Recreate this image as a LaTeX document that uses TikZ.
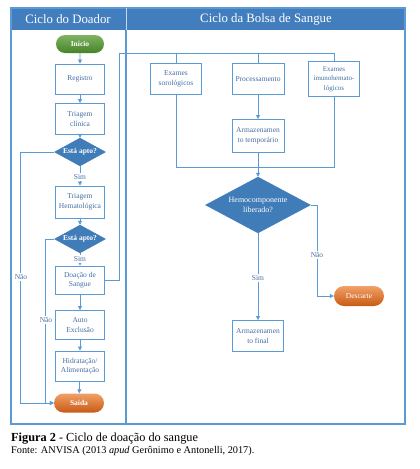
\documentclass[tikz,border=0pt]{standalone}
\usepackage{fontspec}
\setmainfont{Liberation Serif}
\usetikzlibrary{shapes.geometric,shapes.misc,arrows.meta}
\definecolor{lncol}{RGB}{91,155,213}
\definecolor{hdcol}{RGB}{66,126,190}
\definecolor{dmcol}{RGB}{64,124,184}
\definecolor{txcol}{RGB}{70,110,165}
\definecolor{grn}{RGB}{96,160,60}
\definecolor{grnd}{RGB}{70,130,40}
\definecolor{org}{RGB}{235,120,40}
\definecolor{orgd}{RGB}{200,90,20}
\tikzset{
  ln/.style={draw=lncol,line width=0.8pt},
  arr/.style={ln,-{Triangle[length=4pt,width=4pt]}},
  box/.style={rectangle,draw=lncol,line width=0.9pt,fill=white,minimum width=49pt,minimum height=30pt,inner sep=1pt,text=txcol,align=center,font=\fontsize{7.5}{9.5}\selectfont},
  pill/.style={rounded rectangle,minimum width=50pt,minimum height=18pt,inner sep=1pt,text=white,font=\fontsize{7.5}{9}\selectfont\bfseries},
  dia/.style={diamond,fill=dmcol,draw=dmcol,text=white,inner sep=0pt,align=center},
  smalldia/.style={dia,aspect=1.8,minimum width=51pt,minimum height=28pt,font=\fontsize{7.5}{9}\selectfont\bfseries},
  lbl/.style={fill=white,text=txcol,inner sep=1pt,font=\fontsize{7.5}{9}\selectfont},
  hdr/.style={text=white,font=\fontsize{12.8}{14}\selectfont}
}
\begin{document}
\begin{tikzpicture}[x=1pt,y=-1pt]
\useasboundingbox[fill=white] (0,0) rectangle (420,469);
% frame
\fill[hdcol] (11,8) rectangle (405,30);
\draw[lncol,line width=1.2pt] (11,8) rectangle (405,424);
\draw[lncol,line width=1.2pt] (126,30) -- (126,424);
\draw[white!70!hdcol,line width=0.8pt] (126,8) -- (126,30);
\node[hdr] (h1) at (68,19) {Ciclo do Doador};
\node[hdr] (h2) at (266,19) {Ciclo da Bolsa de Sangue};
% left lane
\node[pill,top color=grn!80!white,bottom color=grnd] (ini) at (80,44) {Início};
\node[box] (reg) at (80,79) {Registro};
\node[box,minimum height=31pt] (tri) at (80,119) {Triagem\\clínica};
\node[smalldia] (d1) at (80,152) {Está apto?};
\node[box,minimum height=32pt] (trh) at (80,202) {Triagem\\Hematológica};
\node[smalldia] (d2) at (80,239) {Está apto?};
\node[box,minimum height=28pt] (doa) at (80,280) {Doação de\\Sangue};
\node[box,minimum height=29pt] (aut) at (80,325) {Auto\\Exclusão};
\node[box,minimum height=30pt] (hid) at (80,366) {Hidratação/\\Alimentação};
\node[pill,top color=org!70!white,bottom color=orgd,minimum width=52pt,minimum height=19pt] (sai) at (79,403) {Saída};
\draw[arr] (ini) -- (reg);
\draw[arr] (reg) -- (tri);
\draw[arr] (tri) -- (d1);
\draw[arr] (d1) -- (trh);
\draw[arr] (trh) -- (d2);
\draw[arr] (d2) -- (doa);
\draw[arr] (doa) -- (aut);
\draw[arr] (aut) -- (hid);
\draw[arr] (hid) -- (sai);
\draw[arr] (d1.west) -- ++(-34,0) |- (sai.west);
\draw[arr] (d2.west) -- ++(-9,0) |- (sai.west);
\node[lbl] (s1) at (80,177) {Sim};
\node[lbl] (s2) at (80,259) {Sim};
\node[lbl] (n1) at (21,277) {Não};
\node[lbl] (n2) at (46,320) {Não};
% right lane
\node[box,minimum width=51pt,minimum height=31pt] (ex1) at (176,79) {Exames\\sorológicos};
\node[box,minimum width=52pt,minimum height=31pt] (proc) at (258,79) {Processamento};
\node[box,minimum width=51pt,minimum height=35pt,font=\fontsize{7}{9.5}\selectfont] (ex3) at (334,79) {Exames\\imunohemato-\\lógicos};
\node[box,minimum width=52pt,minimum height=33pt] (atp) at (258,136) {Armazenamen\\to temporário};
\node[dia,aspect=1.875,minimum width=105pt,minimum height=56pt,font=\fontsize{8}{10}\selectfont] (hemo) at (258,205) {Hemocomponente\\liberado?};
\node[box,minimum width=51pt,minimum height=31pt] (afi) at (258,336) {Armazenamen\\to final};
\node[pill,top color=org!70!white,bottom color=orgd,minimum width=52pt,minimum height=20pt,font=\fontsize{7.5}{9}\selectfont] (des) at (359,296) {Descarte};
\coordinate (top) at (119,53);
\coordinate (j) at (258,167);
\draw[ln] (doa.east) -| (top) -| (ex3.north);
\draw[ln] (ex1.north) -- (ex1.north |- top);
\draw[ln] (proc.north) -- (proc.north |- top);
\draw[arr] (proc) -- (atp);
\draw[ln] (ex1.south) |- (j);
\draw[ln] (ex3.south) |- (j);
\draw[arr] (atp.south) -- (hemo.north);
\draw[arr] (hemo) -- (afi);
\draw[arr] (hemo.east) -- ++(7,0) |- (des.west);
\node[lbl] (s3) at (258,278) {Sim};
\node[lbl] (n3) at (317,255) {Não};
% caption
\node[anchor=base west,inner sep=0pt,font=\fontsize{12.3}{14}\selectfont] (cap) at (11,441) {\textbf{Figura 2} - Ciclo de doação do sangue};
\node[anchor=base west,inner sep=0pt,font=\fontsize{10.3}{12}\selectfont] (fon) at (11,453) {Fonte: ANVISA (2013 \textit{apud} Gerônimo e Antonelli, 2017).};
\end{tikzpicture}
\end{document}
